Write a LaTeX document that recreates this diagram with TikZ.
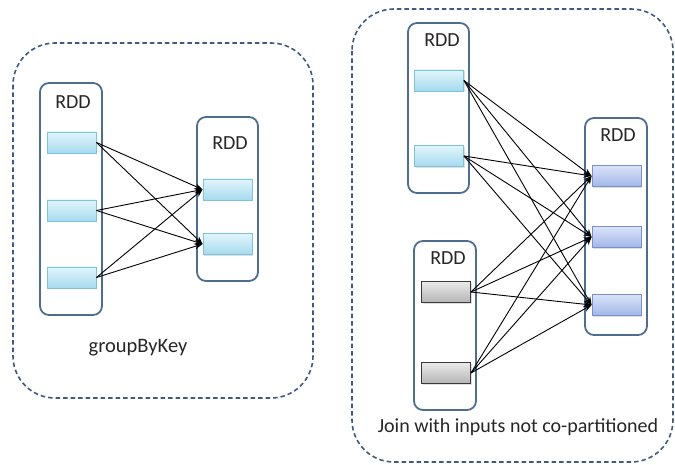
\documentclass[tikz,border=0pt]{standalone}
\usepackage{fontspec}
\setmainfont{Carlito}
\usetikzlibrary{arrows.meta,shadows}
\definecolor{dashcol}{HTML}{3F5A7E}
\definecolor{contcol}{HTML}{4F6E8F}
\definecolor{cyantop}{HTML}{E2F5FC}
\definecolor{cyanbot}{HTML}{A6DAEE}
\definecolor{cyanbd}{HTML}{7CC3DB}
\definecolor{graytop}{HTML}{EAEAEA}
\definecolor{graybot}{HTML}{B5B5B5}
\definecolor{graybd}{HTML}{3A3A3A}
\definecolor{bluetop}{HTML}{DAE3F8}
\definecolor{bluebot}{HTML}{A2B6E8}
\definecolor{bluebd}{HTML}{7A90C8}
\tikzset{
  outer/.style={draw=dashcol,line width=1.6pt,dash pattern=on 4.5pt off 3pt,rounded corners=42pt},
  cont/.style={draw=contcol,line width=1.8pt,rounded corners=9pt,inner sep=0pt},
  part/.style={minimum width=49pt,minimum height=21pt,inner sep=0pt,line width=0.9pt,
    drop shadow={shadow xshift=1pt,shadow yshift=-1.5pt,opacity=0.25}},
  cyanbox/.style={part,draw=cyanbd,top color=cyantop,bottom color=cyanbot},
  graybox/.style={part,draw=graybd,top color=graytop,bottom color=graybot},
  bluebox/.style={part,draw=bluebd,top color=bluetop,bottom color=bluebot},
  lbl/.style={font=\fontsize{20}{24}\selectfont,text=black!85,inner sep=0pt},
  arr/.style={-{Stealth[length=8pt,width=6pt]},line width=0.9pt,black}
}
\begin{document}
\begin{tikzpicture}[x=1pt,y=-1pt]
\useasboundingbox (0,0) rectangle (675,465);
% outer dashed frames
\draw[outer] (13,43) rectangle (313,398);
\draw[outer] (352,9) rectangle (673,462);
% left group containers
\node[cont,minimum width=62pt,minimum height=232pt] (L1) at (71,199) {};
\node[cont,minimum width=61pt,minimum height=164pt] (L2) at (227.5,199) {};
\node[lbl] (L1t) at (73,102) {RDD};
\node[lbl] (L2t) at (230,143) {RDD};
\node[cyanbox] (a1) at (71.5,142.5) {};
\node[cyanbox] (a2) at (71.5,210.5) {};
\node[cyanbox] (a3) at (71.5,277.5) {};
\node[cyanbox] (b1) at (227.5,189.5) {};
\node[cyanbox] (b2) at (227.5,244) {};
\node[lbl,font=\fontsize{20.5}{24}\selectfont] (gbk) at (138,348) {groupByKey};
\foreach \s in {a1,a2,a3}{
  \foreach \t in {b1,b2}{
    \draw[arr] (\s.east) -- (\t.west);
  }
}
% right group containers
\node[cont,minimum width=61pt,minimum height=170pt] (R1) at (438.5,108) {};
\node[cont,minimum width=62pt,minimum height=169pt] (R2) at (445,325.5) {};
\node[cont,minimum width=62pt,minimum height=217pt] (R3) at (616,226.5) {};
\node[lbl] (R1t) at (442,40) {RDD};
\node[lbl] (R2t) at (448,258) {RDD};
\node[lbl] (R3t) at (618,135) {RDD};
\node[cyanbox] (c1) at (439,80.5) {};
\node[cyanbox] (c2) at (439,156) {};
\node[graybox] (d1) at (446,292) {};
\node[graybox] (d2) at (446,373) {};
\node[bluebox] (e1) at (616.5,176) {};
\node[bluebox] (e2) at (616.5,237) {};
\node[bluebox] (e3) at (616.5,305) {};
\node[lbl] (join) at (518,427) {Join with inputs not co-partitioned};
\foreach \s in {c1,c2,d1,d2}{
  \foreach \t in {e1,e2,e3}{
    \draw[arr] (\s.east) -- (\t.west);
  }
}
\end{tikzpicture}
\end{document}
